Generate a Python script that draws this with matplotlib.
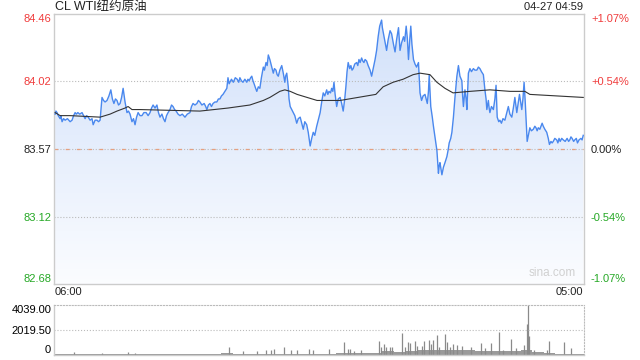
import matplotlib.pyplot as plt
import numpy as np

# minutes after 06:00 / last price
price_t = [3, 5, 8, 11, 16, 18, 21, 25, 29, 35,
           42, 47, 51, 55, 58, 62, 67, 73, 77, 81,
           85, 89, 94, 99, 102, 107, 112, 116, 120, 125,
           129, 133, 138, 143, 148, 152, 156, 160, 164, 168,
           172, 176, 180, 185, 190, 194, 198, 203, 207, 211,
           215, 219, 224, 229, 234, 240, 245, 250, 254, 258,
           263, 268, 272, 276, 281, 285, 289, 293, 297, 302,
           306, 310, 314, 318, 323, 328, 334, 341, 347, 354,
           358, 362, 367, 372, 376, 380, 385, 391, 395, 398,
           402, 406, 410, 414, 419, 424, 428, 432, 436, 440,
           445, 450, 453, 456, 458, 462, 467, 472, 477, 481,
           484, 488, 492, 497, 502, 505, 508, 512, 515, 518,
           521, 525, 528, 532, 536, 540, 545, 548, 552, 555,
           558, 562, 566, 571, 574, 578, 581, 584, 588, 593,
           597, 601, 603, 606, 610, 612, 615, 619, 623, 627,
           632, 636, 641, 645, 649, 653, 658, 662, 667, 671,
           675, 679, 684, 688, 693, 697, 701, 705, 710, 713,
           716, 720, 723, 726, 729, 732, 736, 740, 745, 749,
           753, 757, 760, 763, 766, 770, 773, 776, 779, 783,
           788, 791, 794, 797, 801, 804, 807, 810, 814, 818,
           823, 827, 831, 836, 840, 844, 848, 853, 855, 858,
           862, 866, 870, 875, 879, 884, 888, 892, 897, 901,
           905, 910, 913, 917, 920, 923, 926, 929, 932, 936,
           940, 944, 949, 953, 957, 961, 966, 969, 972, 975,
           977, 979, 981, 985, 988, 992, 995, 997, 1001, 1003,
           1005, 1008, 1010, 1014, 1018, 1023, 1026, 1029, 1033, 1036,
           1040, 1044, 1049, 1053, 1057, 1062, 1064, 1066, 1070, 1073,
           1075, 1079, 1083, 1087, 1092, 1096, 1101, 1105, 1109, 1113,
           1118, 1122, 1125, 1127, 1131, 1133, 1135, 1139, 1144, 1148,
           1151, 1154, 1158, 1161, 1165, 1169, 1174, 1178, 1183, 1187,
           1192, 1196, 1200, 1205, 1208, 1212, 1215, 1218, 1221, 1224,
           1227, 1229, 1232, 1235, 1239, 1243, 1248, 1252, 1255, 1258,
           1261, 1265, 1268, 1271, 1274, 1278, 1283, 1287, 1290, 1294,
           1297, 1300, 1304, 1309, 1312, 1315, 1318, 1322, 1326, 1331,
           1336, 1340, 1343, 1346, 1349, 1353, 1356, 1360, 1363, 1367,
           1372, 1375, 1378]
price = [83.80, 83.82, 83.81, 83.79, 83.77, 83.79, 83.75, 83.77, 83.76, 83.77,
         83.75, 83.76, 83.79, 83.81, 83.80, 83.81, 83.80, 83.81, 83.79, 83.77,
         83.79, 83.78, 83.76, 83.77, 83.73, 83.76, 83.76, 83.75, 83.76, 83.91,
         83.89, 83.88, 83.89, 83.92, 83.96, 83.90, 83.87, 83.90, 83.89, 83.86,
         83.87, 83.91, 83.97, 83.88, 83.81, 83.82, 83.80, 83.75, 83.77, 83.73,
         83.78, 83.81, 83.79, 83.79, 83.81, 83.81, 83.79, 83.81, 83.84, 83.86,
         83.84, 83.86, 83.81, 83.78, 83.80, 83.77, 83.75, 83.79, 83.81, 83.83,
         83.86, 83.85, 83.83, 83.82, 83.80, 83.79, 83.80, 83.78, 83.80, 83.81,
         83.85, 83.87, 83.86, 83.87, 83.89, 83.88, 83.86, 83.87, 83.85, 83.83,
         83.86, 83.87, 83.85, 83.87, 83.88, 83.88, 83.90, 83.90, 83.92, 83.93,
         83.95, 83.97, 84.04, 84.00, 84.01, 84.03, 84.01, 84.04, 84.03, 84.01,
         84.04, 84.02, 84.01, 84.03, 84.01, 84.03, 84.02, 84.04, 84.05, 84.02,
         84.00, 83.97, 83.95, 83.98, 83.97, 84.04, 84.11, 84.09, 84.14, 84.12,
         84.19, 84.16, 84.12, 84.07, 84.10, 84.09, 84.06, 84.05, 84.09, 84.12,
         84.07, 84.01, 84.05, 84.07, 83.98, 83.90, 83.85, 83.83, 83.81, 83.79,
         83.74, 83.77, 83.78, 83.74, 83.70, 83.75, 83.73, 83.68, 83.59, 83.64,
         83.68, 83.66, 83.72, 83.76, 83.81, 83.88, 83.94, 83.92, 83.96, 83.93,
         83.95, 83.94, 83.97, 83.95, 84.01, 83.93, 83.85, 83.90, 83.91, 83.87,
         83.82, 83.90, 83.98, 84.08, 84.14, 84.10, 84.12, 84.09, 84.10, 84.13,
         84.14, 84.12, 84.16, 84.14, 84.17, 84.15, 84.14, 84.16, 84.15, 84.12,
         84.09, 84.05, 84.10, 84.16, 84.22, 84.31, 84.38, 84.42, 84.37, 84.33,
         84.28, 84.22, 84.29, 84.35, 84.33, 84.26, 84.21, 84.29, 84.37, 84.22,
         84.27, 84.31, 84.28, 84.38, 84.30, 84.16, 84.28, 84.38, 84.26, 84.16,
         84.13, 84.11, 84.14, 83.94, 83.89, 83.92, 83.93, 83.90, 83.87, 83.95,
         84.06, 83.95, 83.85, 83.78, 83.72, 83.65, 83.60, 83.56, 83.41, 83.46,
         83.48, 83.43, 83.40, 83.45, 83.48, 83.52, 83.56, 83.61, 83.64, 83.68,
         83.78, 83.91, 84.05, 84.12, 84.05, 84.02, 83.92, 83.85, 83.96, 83.90,
         83.83, 84.07, 84.10, 84.08, 84.10, 84.09, 84.09, 84.11, 84.10, 84.08,
         84.06, 83.96, 83.90, 83.83, 83.89, 83.84, 83.81, 83.85, 83.83, 83.90,
         83.99, 83.78, 83.75, 83.76, 83.74, 83.77, 83.76, 83.80, 83.85, 83.80,
         83.78, 83.84, 83.91, 83.81, 83.86, 83.93, 83.88, 83.83, 83.90, 84.01,
         83.88, 83.78, 83.62, 83.66, 83.71, 83.69, 83.70, 83.72, 83.71, 83.69,
         83.71, 83.70, 83.72, 83.74, 83.72, 83.70, 83.68, 83.64, 83.60, 83.62,
         83.61, 83.62, 83.64, 83.63, 83.61, 83.64, 83.62, 83.64, 83.63, 83.62,
         83.64, 83.62, 83.63, 83.65, 83.64, 83.62, 83.63, 83.64, 83.61, 83.63,
         83.64, 83.63, 83.66]

# average price line
avg_t = [3, 16, 42, 120, 146, 164, 185, 193, 203, 224, 380, 453, 510, 545, 562, 588, 601, 615, 633,
         659, 685, 711, 745, 838, 857, 883, 909, 935, 953, 979, 997, 1018, 1039, 1083, 1135, 1187,
         1226, 1239, 1378]
avg_p = [83.81, 83.79, 83.79, 83.78, 83.80, 83.82, 83.84, 83.85, 83.83, 83.83, 83.82, 83.84, 83.86,
         83.89, 83.91, 83.95, 83.96, 83.95, 83.93, 83.91, 83.89, 83.89, 83.89, 83.93, 83.98, 84.01,
         84.03, 84.06, 84.07, 84.06, 84.01, 83.97, 83.94, 83.95, 83.96, 83.95, 83.95, 83.93, 83.91]

# volume: background level and single spikes
vol_base_t = [0, 30, 60, 90, 120, 150, 180, 210, 240, 270, 300, 330, 360, 390, 420, 450, 480, 510,
              540, 570, 600, 630, 660, 690, 720, 750, 780, 810, 840, 870, 900, 930, 960, 990, 1020,
              1050, 1080, 1110, 1140, 1170, 1200, 1230, 1260, 1290, 1320, 1350, 1380]
vol_base = [80, 70, 90, 75, 80, 70, 85, 75, 70, 80, 75, 70, 80, 90, 110, 130, 110, 100, 90, 100,
            110, 90, 80, 100, 120, 150, 180, 160, 200, 330, 280, 350, 400, 380, 420, 400, 380, 350,
            330, 300, 320, 380, 250, 150, 120, 110, 100]
vol_t = [51, 124, 192, 210, 455, 493, 528, 551, 564, 572, 598, 616, 632, 663, 674, 715, 755, 766,
         771, 780, 800, 845, 852, 859, 865, 874, 880, 906, 913, 921, 926, 939, 944, 958, 964, 976,
         982, 988, 997, 1003, 1018, 1022, 1030, 1039, 1049, 1063, 1085, 1112, 1123, 1139, 1159,
         1170, 1191, 1204, 1224, 1231, 1233, 1236, 1251, 1284, 1289, 1328, 1346]
vol_v = [215, 180, 270, 200, 620, 320, 320, 400, 420, 460, 620, 400, 420, 460, 400, 485, 1050, 460,
         460, 300, 400, 1130, 670, 860, 620, 620, 670, 1780, 670, 1020, 940, 1160, 750, 750, 1160,
         1210, 880, 1210, 1615, 620, 1700, 1080, 670, 880, 800, 750, 620, 1000, 540, 940, 1860, 400,
         1265, 540, 800, 2500, 4039, 1535, 400, 400, 1130, 1050, 540]

y_ticks = [84.46, 84.02, 83.57, 83.12, 82.68]
y_labels = ['84.46', '84.02', '83.57', '83.12', '82.68']
pct_labels = ['+1.07%', '+0.54%', '0.00%', '-0.54%', '-1.07%']
tick_colors = ['#f03c3c', '#f03c3c', '#222222', '#25a825', '#25a825']
vol_ticks = [4039.0, 2019.5, 0]
vol_labels = ['4039.00', '2019.50', '0']

plt.rcParams['font.family'] = ['Liberation Sans', 'Noto Sans CJK SC', 'DejaVu Sans']

fig = plt.figure(figsize=(6.4, 3.6), dpi=100)
W, H = 640, 360
ax = fig.add_axes([54 / W, 1 - 284 / H, 530 / W, 270 / H])
axv = fig.add_axes([54 / W, 5 / H, 530 / W, 50 / H])

lo, hi = y_ticks[-1], y_ticks[0]

# gradient fill under the price line
poly = ax.fill_between(price_t, lo, price, color='none', lw=0)
grad = np.linspace(0, 1, 256).reshape(-1, 1)
top = np.array([0.82, 0.88, 0.98])
bot = np.array([0.985, 0.99, 1.0])
img = top + (bot - top) * grad
im = ax.imshow(img.reshape(256, 1, 3), extent=[0, 1380, lo, hi], aspect='auto',
               origin='upper', zorder=1)
im.set_clip_path(poly.get_paths()[0], transform=ax.transData)
ax.set_xlim(0, 1380)
ax.set_ylim(lo, hi)

for v in (84.02, 83.12, 83.57):
    ax.axhline(v, color='#bbbbbb', ls=':', lw=0.8, zorder=2)
ax.axhline(83.57, color='#e6a080', ls=(0, (3, 6)), lw=0.9, zorder=2)

ax.plot(price_t, price, color='#4a88ee', lw=1.0, zorder=3)
ax.plot(avg_t, avg_p, color='#333333', lw=0.8, zorder=4)

ax.set_xticks([])
ax.set_yticks(y_ticks)
ax.set_yticklabels(y_labels, fontsize=8)
ax.tick_params(axis='y', length=0, pad=2)
for lab, c in zip(ax.get_yticklabels(), tick_colors):
    lab.set_color(c)
ax.get_yticklabels()[0].set_va('top')
ax.get_yticklabels()[-1].set_va('bottom')
for s in ax.spines.values():
    s.set_color('#cccccc')
    s.set_linewidth(1)

ax2 = ax.twinx()
ax2.set_ylim(lo, hi)
ax2.set_yticks(y_ticks)
ax2.set_yticklabels(pct_labels, fontsize=8)
ax2.tick_params(axis='y', length=0, pad=5)
for lab, c in zip(ax2.get_yticklabels(), tick_colors):
    lab.set_color(c)
ax2.get_yticklabels()[0].set_va('top')
ax2.get_yticklabels()[-1].set_va('bottom')
for s in ax2.spines.values():
    s.set_visible(False)

ax.text(0.985, 0.02, 'sina.com', transform=ax.transAxes, ha='right', va='bottom',
        fontsize=8.5, color='#d0d0d0', zorder=5)

# volume panel
axv.set_xlim(0, 1380)
axv.set_ylim(0, 4039)
axv.fill_between(vol_base_t, 0, vol_base, color='#9a9a9a', lw=0, step='mid')
axv.vlines(vol_t, 0, vol_v, color='#8a8a8a', lw=0.9)
axv.axhline(2019.5, color='#bbbbbb', ls=':', lw=0.8)
axv.set_xticks([])
axv.set_yticks(vol_ticks)
axv.set_yticklabels(vol_labels, fontsize=8)
axv.tick_params(axis='y', length=0, pad=2)
axv.get_yticklabels()[0].set_va('top')
axv.get_yticklabels()[-1].set_va('bottom')
for k in ('top', 'right'):
    axv.spines[k].set_linestyle(':')
    axv.spines[k].set_color('#bbbbbb')
    axv.spines[k].set_linewidth(0.8)
for k in ('left', 'bottom'):
    axv.spines[k].set_color('#cccccc')
    axv.spines[k].set_linewidth(1)

fig.text(55 / W, 1 - 7 / H, 'CL WTI纽约原油', ha='left', va='center', fontsize=9, color='#222222')
fig.text(583 / W, 1 - 7 / H, '04-27 04:59', ha='right', va='center', fontsize=8, color='#222222')
fig.text(55 / W, 1 - 292 / H, '06:00', ha='left', va='center', fontsize=8, color='#222222')
fig.text(583 / W, 1 - 292 / H, '05:00', ha='right', va='center', fontsize=8, color='#222222')

fig.savefig('out.png', dpi=100)
